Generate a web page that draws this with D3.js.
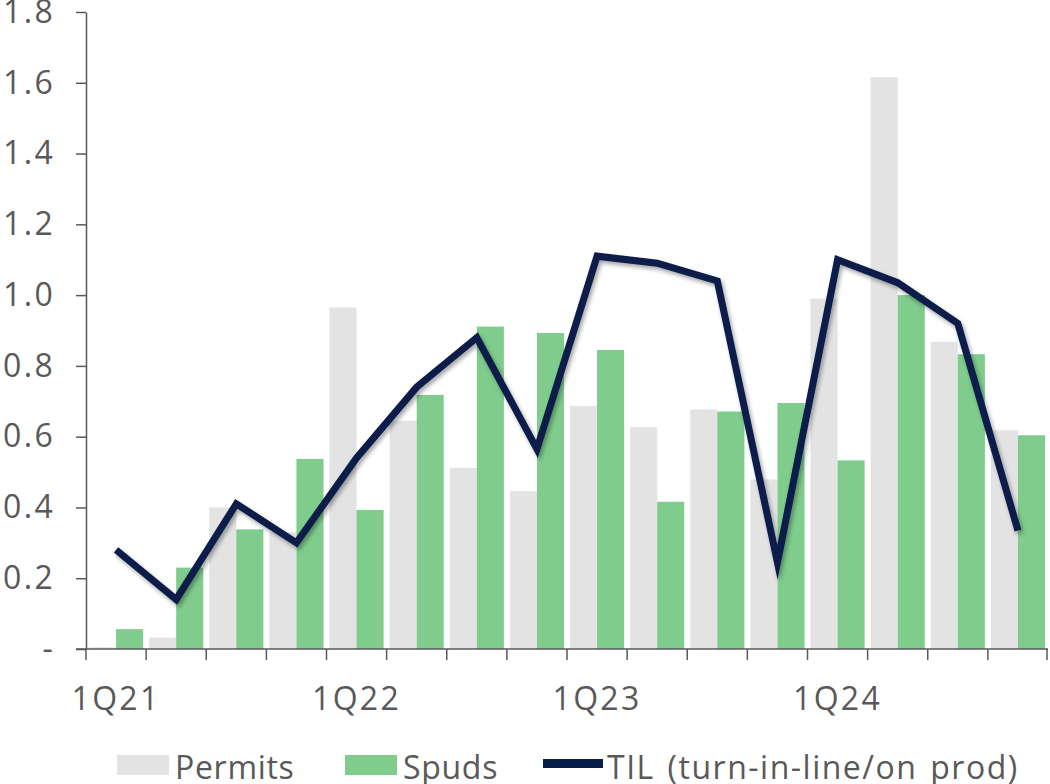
<!DOCTYPE html>
<html>
<head>
<meta charset="utf-8">
<script src="https://cdn.jsdelivr.net/npm/d3@7"></script>
<style>
  body { margin: 0; background: #fff; }
  text { font-family: "Open Sans", sans-serif; fill: #595959; }
</style>
</head>
<body>
<div id="graf"></div>
<script>
// quarters and series
quarters = ["1Q21","2Q21","3Q21","4Q21","1Q22","2Q22","3Q22","4Q22",
            "1Q23","2Q23","3Q23","4Q23","1Q24","2Q24","3Q24","4Q24"]
tickLabels = ["1Q21","1Q22","1Q23","1Q24"]
permits = [0.005, 0.032, 0.40, 0.33, 0.965, 0.645, 0.512, 0.446, 0.687, 0.627, 0.677, 0.479, 0.99, 1.616, 0.868, 0.618]
spuds   = [0.056, 0.23, 0.338, 0.537, 0.393, 0.718, 0.911, 0.893, 0.845, 0.416, 0.671, 0.695, 0.533, 1.0, 0.833, 0.604]
til     = [0.28, 0.14, 0.41, 0.30, 0.54, 0.74, 0.88, 0.565, 1.11, 1.09, 1.04, 0.245, 1.10, 1.035, 0.92, 0.335]
yTicks  = [0, 0.2, 0.4, 0.6, 0.8, 1.0, 1.2, 1.4, 1.6, 1.8]
seriesNames = ["Permits", "Spuds"]

var colors = { Permits: "#e3e3e3", Spuds: "#80cc8c", TIL: "#071d4a" }

var svg = d3.select('#graf')
            .append('svg')
            .attr('width', 1050)
            .attr('height', 784)

var x = d3.scaleBand()
          .domain(quarters)
          .range([86, 1048])

var xIn = d3.scaleBand()
            .domain(seriesNames)
            .range([0, x.bandwidth()])
            .paddingOuter(0.11)

var y = d3.scaleLinear()
          .domain([0, 1.8])
          .range([649, 12])

// shadow under the TIL line
var f = svg.append("defs").append("filter")
  .attr("id", "shadow")
  .attr("x", "-10%").attr("y", "-10%")
  .attr("width", "120%").attr("height", "120%")
f.append("feDropShadow")
  .attr("dx", 2).attr("dy", 3)
  .attr("stdDeviation", 2)
  .attr("flood-color", "#000")
  .attr("flood-opacity", 0.35)

// bars
var rows = quarters.map((q, i) => ({ q: q, Permits: permits[i], Spuds: spuds[i] }))

var groups = svg.append("g").selectAll("g")
  .data(rows)
  .join("g")
  .attr("transform", d => "translate(" + x(d.q) + ",0)")

groups.selectAll("rect")
  .data(d => seriesNames.map(s => ({ s: s, v: d[s] })))
  .join("rect")
  .attr("x", d => xIn(d.s))
  .attr("width", xIn.bandwidth())
  .attr("y", d => y(d.v))
  .attr("height", d => y(0) - y(d.v))
  .attr("fill", d => colors[d.s])

// y axis
var yAxis = svg.append("g")
  .attr("transform", "translate(86,0)")
  .call(d3.axisLeft(y)
    .tickValues(yTicks)
    .tickSize(10)
    .tickSizeOuter(0)
    .tickPadding(21)
    .tickFormat(d => d === 0 ? "-" : d3.format(".1f")(d)))
yAxis.selectAll("path, line").attr("stroke", "#595959").attr("stroke-width", 1.5)
yAxis.selectAll("text")
  .attr("font-size", 32).attr("font-family", "Open Sans")
  .attr("letter-spacing", 2.3).attr("fill", "#595959")

// x axis: baseline, ticks at category boundaries, labels only at 1Q
var xAxis = svg.append("g")
  .attr("transform", "translate(0,649)")
  .call(d3.axisBottom(x)
    .tickSize(0)
    .tickPadding(38)
    .tickFormat(d => tickLabels.includes(d) ? d : ""))
xAxis.select(".domain").remove()
xAxis.selectAll("text")
  .attr("font-size", 32).attr("font-family", "Open Sans")
  .attr("letter-spacing", 2.3).attr("fill", "#595959")

xAxis.append("line")
  .attr("x1", 76).attr("x2", x.range()[1])
  .attr("stroke", "#595959").attr("stroke-width", 1.5)

xAxis.selectAll(".bound")
  .data(quarters.map(q => x(q)).concat([x.range()[1] - 1]))
  .join("line")
  .attr("class", "bound")
  .attr("x1", d => d).attr("x2", d => d)
  .attr("y1", 0).attr("y2", 11)
  .attr("stroke", "#595959").attr("stroke-width", 1.5)

// TIL line
var line = d3.line()
  .x((d, i) => x(quarters[i]) + x.bandwidth() / 2)
  .y(d => y(d))

svg.append("path")
  .datum(til)
  .attr("d", line)
  .attr("fill", "none")
  .attr("stroke", colors.TIL)
  .attr("stroke-width", 7)
  .attr("stroke-linejoin", "miter")
  .attr("stroke-miterlimit", 20)
  .attr("filter", "url(#shadow)")

// legend
var legend = svg.append("g").attr("font-size", 32).attr("letter-spacing", 0.7)

legend.append("rect").attr("x", 117).attr("y", 755).attr("width", 52).attr("height", 20).attr("fill", colors.Permits)
legend.append("text").attr("x", 175).attr("y", 779).text("Permits")

legend.append("rect").attr("x", 345).attr("y", 755).attr("width", 52).attr("height", 20).attr("fill", colors.Spuds)
legend.append("text").attr("x", 403).attr("y", 779).text("Spuds")

legend.append("rect").attr("x", 543).attr("y", 759).attr("width", 60).attr("height", 9).attr("fill", colors.TIL)
legend.append("text").attr("x", 607).attr("y", 779)
  .attr("letter-spacing", 1.5).attr("word-spacing", 3)
  .text("TIL (turn-in-line/on prod)")
</script>
</body>
</html>
